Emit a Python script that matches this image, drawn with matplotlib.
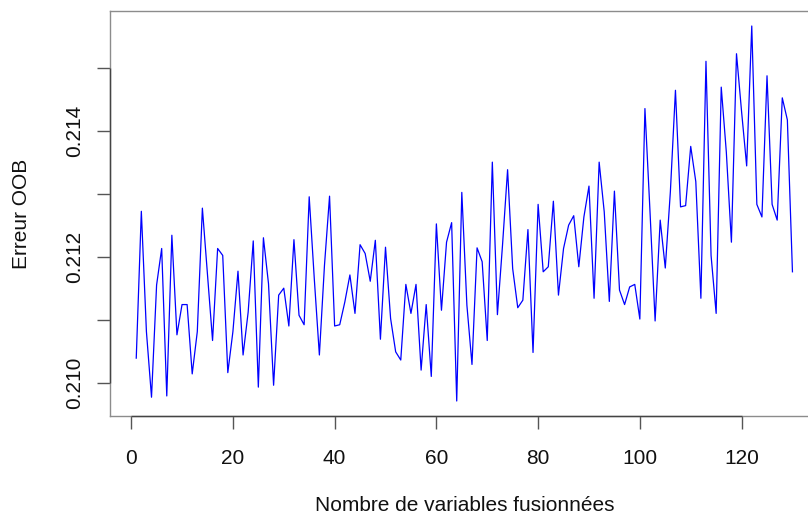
import numpy as np
import matplotlib
matplotlib.use('Agg')
import matplotlib.pyplot as plt

plt.rcParams['font.family'] = ['Liberation Sans', 'DejaVu Sans']

# OOB error for each number of merged variables
n_vars = np.arange(1, 131)
oob_error = [
    0.21039, 0.21272, 0.21081, 0.20977, 0.21155, 0.21213, 0.20979, 0.21234, 0.21076, 0.21124,
    0.21124, 0.21014, 0.21081, 0.21277, 0.21171, 0.21067, 0.21213, 0.21202, 0.21016, 0.21081,
    0.21177, 0.21044, 0.21112, 0.21225, 0.20993, 0.21230, 0.21157, 0.20996, 0.21139, 0.21150,
    0.21090, 0.21227, 0.21107, 0.21092, 0.21295, 0.21165, 0.21044, 0.21186, 0.21296, 0.21090,
    0.21092, 0.21128, 0.21171, 0.21110, 0.21219, 0.21205, 0.21161, 0.21226, 0.21069, 0.21215,
    0.21102, 0.21049, 0.21036, 0.21156, 0.21110, 0.21156, 0.21020, 0.21124, 0.21010, 0.21252,
    0.21115, 0.21223, 0.21254, 0.20971, 0.21302, 0.21123, 0.21029, 0.21214, 0.21192, 0.21067,
    0.21350, 0.21108, 0.21218, 0.21338, 0.21181, 0.21119, 0.21131, 0.21243, 0.21048, 0.21283,
    0.21176, 0.21184, 0.21288, 0.21139, 0.21213, 0.21250, 0.21265, 0.21184, 0.21263, 0.21312,
    0.21134, 0.21350, 0.21271, 0.21129, 0.21304, 0.21147, 0.21124, 0.21152, 0.21156, 0.21101,
    0.21435, 0.21271, 0.21098, 0.21258, 0.21182, 0.21303, 0.21464, 0.21279, 0.21281, 0.21375,
    0.21319, 0.21134, 0.21510, 0.21202, 0.21110, 0.21469, 0.21366, 0.21223, 0.21522, 0.21430,
    0.21344, 0.21566, 0.21283, 0.21263, 0.21487, 0.21283, 0.21258, 0.21452, 0.21417, 0.21176,
]
x_ticks = [0, 20, 40, 60, 80, 100, 120]
y_ticks = [0.210, 0.211, 0.212, 0.213, 0.214, 0.215]
y_tick_labels = ['0.210', '', '0.212', '', '0.214', '']

W, H = 808, 516
fig = plt.figure(figsize=(W / 100, H / 100), dpi=100)
# plot region like base R; right edge falls off the picture
ax = fig.add_axes([110 / W, 100 / H, 708.7 / W, 405 / H])

ax.plot(n_vars, oob_error, color='#0000FF', lw=0.9)

# base R style 4% padding
xr = n_vars.max() - n_vars.min()
yr = max(oob_error) - min(oob_error)
ax.set_xlim(n_vars.min() - 0.04 * xr, n_vars.max() + 0.04 * xr)
ax.set_ylim(min(oob_error) - 0.04 * yr, max(oob_error) + 0.04 * yr)

box_col = '#8c8c8c'
for s in ax.spines.values():
    s.set_color(box_col)
    s.set_linewidth(1.0)

# axis lines (darker, from first to last tick)
lo_y = ax.get_ylim()[0]
lo_x = ax.get_xlim()[0]
ax.hlines(lo_y, x_ticks[0], x_ticks[-1], color='#444444', lw=1.0, clip_on=False, zorder=5)
ax.vlines(lo_x, y_ticks[0], y_ticks[-1], color='#444444', lw=1.0, clip_on=False, zorder=5)

ax.set_xticks(x_ticks)
ax.set_xticklabels([str(t) for t in x_ticks])
ax.set_yticks(y_ticks)
ax.set_yticklabels(y_tick_labels, rotation=90, va='center')

ax.tick_params(axis='both', direction='out', length=9.4, width=1.0, color='#555555',
               labelsize=15, labelcolor='#111111')
ax.tick_params(axis='x', pad=14)
ax.tick_params(axis='y', pad=9)

ax.set_xlabel('Nombre de variables fusionnées', fontsize=15, color='#111111', va='baseline')
ax.set_ylabel('Erreur OOB', fontsize=15, color='#111111')
# place axis titles like R's line 3 margins
ax.xaxis.set_label_coords(0.5, -0.2346)
ax.yaxis.set_label_coords(-0.112, 0.5)

fig.savefig('out.png', dpi=100, facecolor='white')
